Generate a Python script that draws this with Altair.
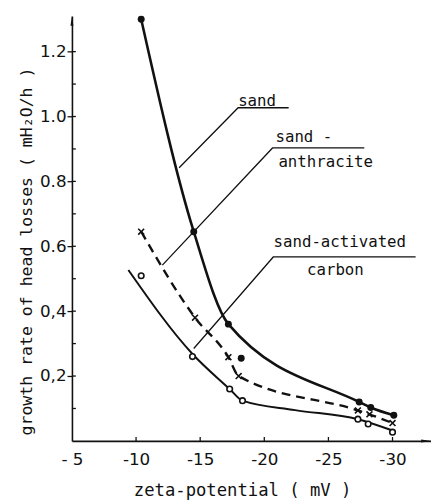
import altair as alt
import pandas as pd

# ---- data ----
sand_x = [-10.4, -14.5, -17.2, -27.4, -28.3, -30.1]
sand_y = [1.30, 0.645, 0.36, 0.12, 0.103, 0.079]
sand_extra_x = [-18.2]
sand_extra_y = [0.255]

anth_x = [-10.4, -14.6, -17.2, -18.0, -27.3, -28.2, -30.0]
anth_y = [0.645, 0.38, 0.258, 0.20, 0.094, 0.082, 0.055]

carb_x = [-10.4, -14.4, -17.3, -18.3, -27.3, -28.1, -30.0]
carb_y = [0.509, 0.26, 0.16, 0.124, 0.067, 0.052, 0.027]
# path of the hand-drawn carbon curve
carb_line_x = [-9.4, -14.4, -17.3, -18.3, -22.4, -27.3, -30.0]
carb_line_y = [0.527, 0.268, 0.16, 0.124, 0.095, 0.067, 0.032]

label_text = ["sand", "sand -", "anthracite", "sand-activated", "carbon"]
label_x = [-17.96, -20.87, -21.1, -20.72, -23.33]
label_y = [1.033, 0.921, 0.845, 0.597, 0.512]

leader_grp = ["sand"] * 3 + ["anth"] * 3 + ["carb"] * 3
leader_x = [-21.9, -17.96, -13.36, -27.8, -20.64, -12.05, -31.8, -20.7, -14.5]
leader_y = [1.027, 1.027, 0.842, 0.903, 0.903, 0.542, 0.567, 0.567, 0.285]

x_ticks = [-5, -10, -15, -20, -25, -30]
y_ticks = [0.2, 0.4, 0.6, 0.8, 1.0, 1.2]
y_minor = [0.1, 0.2, 0.3, 0.4, 0.5, 0.6, 0.7, 0.8, 0.9, 1.0, 1.1, 1.2]

W, H = 365, 432
INK = "#111111"

X = alt.X(
    "x:Q",
    scale=alt.Scale(domain=[-33, -5], reverse=True, nice=False, zero=False),
    axis=alt.Axis(
        values=x_ticks,
        labelExpr="datum.value == -5 ? '- 5' : '-' + abs(datum.value)",
        grid=False, ticks=False, tickSize=0, labelPadding=11, labelFlush=False,
        domainColor=INK, domainWidth=1.6,
        labelFont="DejaVu Sans", labelFontSize=17, labelColor=INK,
        title="zeta-potential  ( mV )",
        titleFont="DejaVu Sans Mono", titleFontSize=17.5, titleFontWeight="normal",
        titleColor=INK, titleX=173, titleY=56, titleAlign="center",
        titleBaseline="alphabetic",
    ),
)
Y = alt.Y(
    "y:Q",
    scale=alt.Scale(domain=[0, 1.31], nice=False, zero=False),
    axis=alt.Axis(
        values=y_ticks,
        labelExpr="datum.value < 0.5 ? replace(format(datum.value, '.1f'), '.', ',') : format(datum.value, '.1f')",
        grid=False, tickSize=5, tickWidth=1.3, tickColor=INK, labelPadding=1,
        labelFlush=False,
        domainColor=INK, domainWidth=1.6,
        labelFont="DejaVu Sans", labelFontSize=17, labelColor=INK,
        title="growth rate of head losses  ( mH\u2082O/h )",
        titleFont="DejaVu Sans Mono", titleFontSize=16.8, titleFontWeight="normal",
        titleColor=INK, titleAngle=270, titleX=-46, titleY=239,
        titleAlign="center", titleBaseline="middle",
    ),
)

sand_df = pd.DataFrame({"x": sand_x, "y": sand_y, "i": range(len(sand_x))})
sand_extra_df = pd.DataFrame({"x": sand_extra_x, "y": sand_extra_y})
anth_df = pd.DataFrame({"x": anth_x, "y": anth_y, "i": range(len(anth_x))})
carb_df = pd.DataFrame({"x": carb_x, "y": carb_y})
carb_line_df = pd.DataFrame({"x": carb_line_x, "y": carb_line_y, "i": range(len(carb_line_x))})
label_df = pd.DataFrame({"x": label_x, "y": label_y, "t": label_text})
leader_df = pd.DataFrame({"x": leader_x, "y": leader_y, "g": leader_grp,
                          "i": list(range(len(leader_x)))})
xt_df = pd.DataFrame({"x": x_ticks[1:]})
yt_df = pd.DataFrame({"y": y_minor})

sand_line = alt.Chart(sand_df).mark_line(
    color=INK, strokeWidth=2.6, interpolate="monotone"
).encode(x=X, y=Y, order="i:Q")
anth_line = alt.Chart(anth_df).mark_line(
    color=INK, strokeWidth=2.4, strokeDash=[9, 6], interpolate="monotone"
).encode(x=X, y=Y, order="i:Q")
carb_line = alt.Chart(carb_line_df).mark_line(
    color=INK, strokeWidth=2.0, interpolate="monotone"
).encode(x=X, y=Y, order="i:Q")

sand_pts = alt.Chart(sand_df).mark_point(
    shape="circle", filled=True, size=50, color=INK, opacity=1
).encode(x=X, y=Y)
sand_extra = alt.Chart(sand_extra_df).mark_point(
    shape="circle", filled=True, size=50, color=INK, opacity=1
).encode(x=X, y=Y)
anth_pts = alt.Chart(anth_df).mark_point(
    shape="M-1,-1L1,1M-1,1L1,-1", filled=False, size=36, color=INK,
    strokeWidth=1.6, opacity=1
).encode(x=X, y=Y)
carb_pts = alt.Chart(carb_df).mark_point(
    shape="circle", filled=False, size=32, color=INK, fill="white",
    strokeWidth=1.6, opacity=1
).encode(x=X, y=Y)

leaders = alt.Chart(leader_df).mark_line(color=INK, strokeWidth=1.3).encode(
    x=X, y=Y, detail="g:N", order="i:Q"
)
labels = alt.Chart(label_df).mark_text(
    align="left", baseline="alphabetic", font="DejaVu Sans Mono",
    fontSize=16, color=INK
).encode(x=X, y=Y, text="t:N")

x_in_ticks = alt.Chart(xt_df).mark_rule(color=INK, strokeWidth=1.3).encode(
    x=X, y=alt.value(H), y2=alt.value(H - 4)
)
y_in_ticks = alt.Chart(yt_df).mark_rule(color=INK, strokeWidth=1.3).encode(
    y=Y, x=alt.value(0), x2=alt.value(4)
)

arrow_df = pd.DataFrame({"k": ["a"]})
y_arrow = alt.Chart(arrow_df).mark_point(
    shape="M0,-1L0.3,1L-0.3,1Z", filled=True, size=100, color=INK, opacity=1
).encode(x=alt.value(0), y=alt.value(5))
x_arrow = alt.Chart(arrow_df).mark_point(
    shape="M1,0L-1,0.3L-1,-0.3Z", filled=True, size=100, color=INK, opacity=1
).encode(x=alt.value(W - 5), y=alt.value(H))

chart = alt.layer(
    leaders, sand_line, anth_line, carb_line,
    sand_pts, sand_extra, anth_pts, carb_pts, labels,
    x_in_ticks, y_in_ticks, y_arrow, x_arrow,
).properties(
    width=W, height=H,
    autosize=alt.AutoSizeParams(type="none"),
    padding={"left": 65, "top": 4, "right": 0, "bottom": 57},
    background="white",
).configure_view(stroke=None)

chart.save("out.html", embed_options={"renderer": "svg", "actions": False})
